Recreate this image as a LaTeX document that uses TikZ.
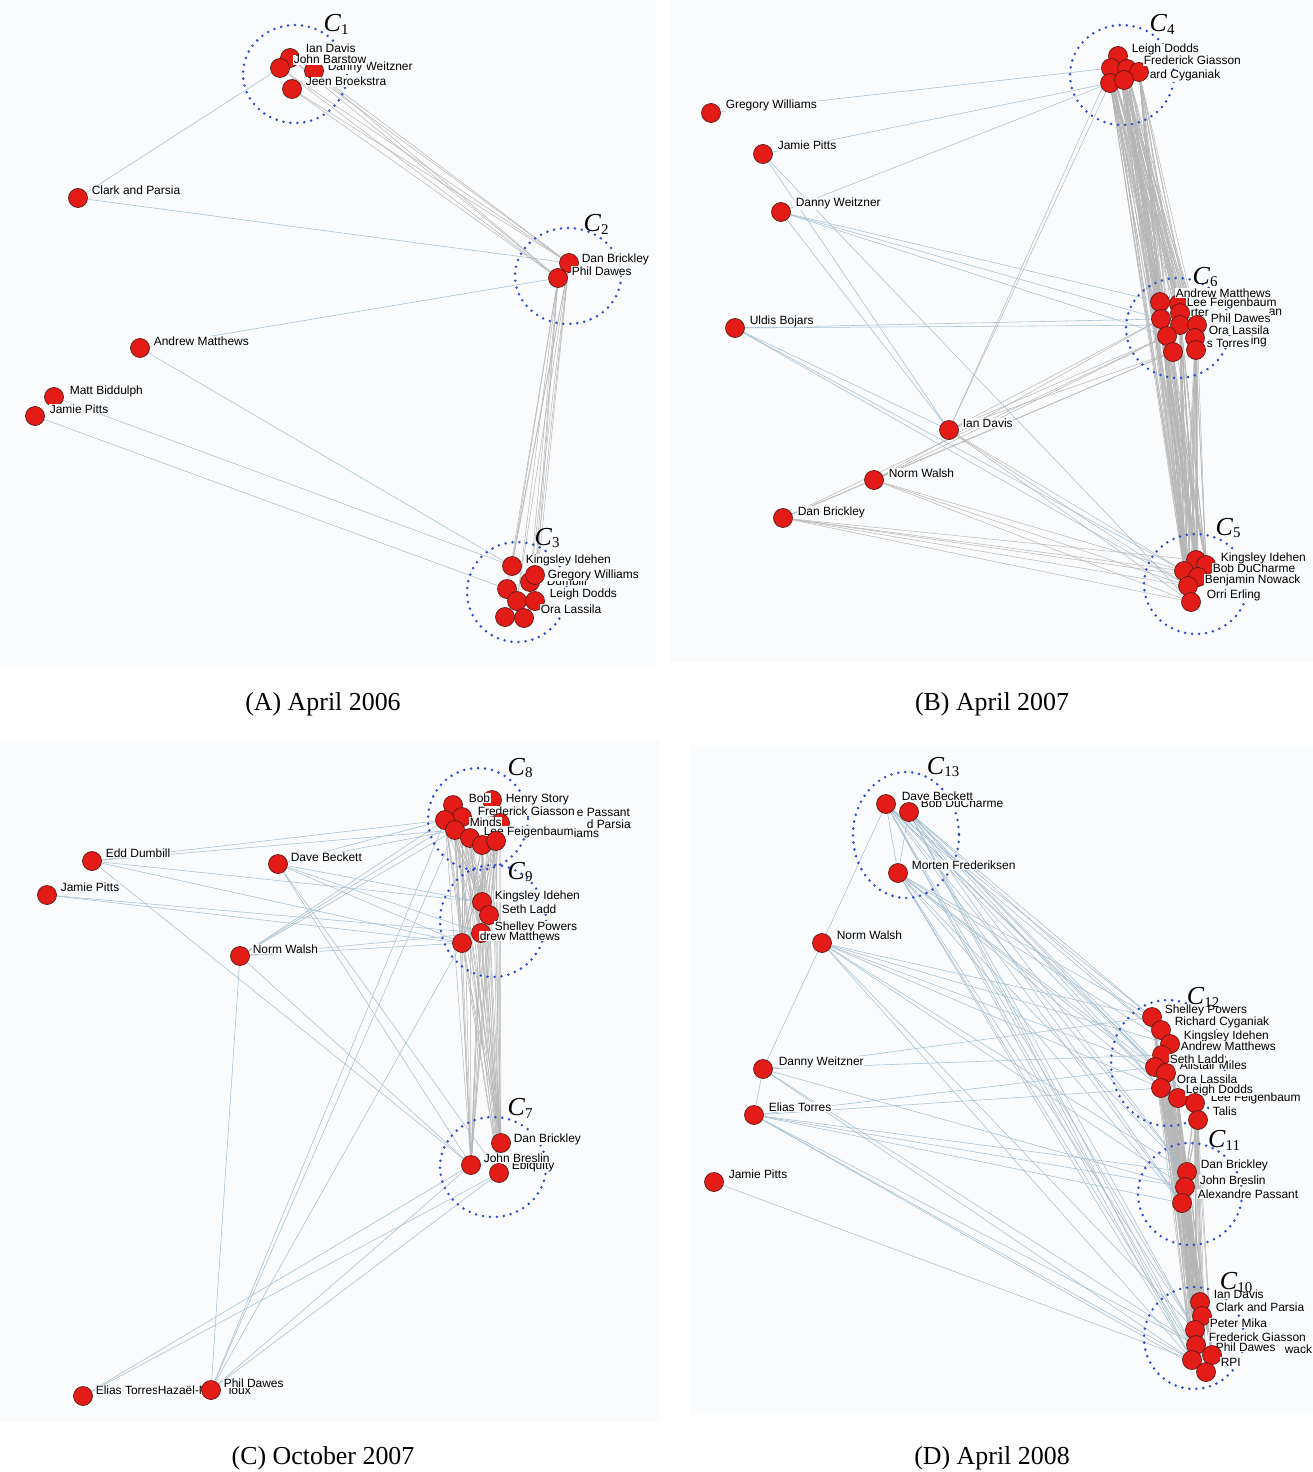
\documentclass[tikz,border=0pt]{standalone}
\usepackage{fontspec}
\usepackage{tikz}
\newfontfamily\labfont{Liberation Sans}
\newfontfamily\capfont{Liberation Serif}
\pgfdeclarelayer{panel}
\pgfdeclarelayer{edges}
\pgfdeclarelayer{rings}
\pgfsetlayers{panel,edges,rings,main}
\definecolor{panelbg}{RGB}{250,251,253}
\definecolor{dotblue}{RGB}{45,75,205}
\definecolor{nodered}{RGB}{228,28,24}
\definecolor{noderim}{RGB}{95,25,20}
\definecolor{tieedge}{RGB}{165,192,208}
\definecolor{bunchedge}{RGB}{182,182,182}
\tikzset{
    pers/.style={circle, fill=nodered, draw=noderim, line width=0.7bp, minimum size=19bp, inner sep=0pt},
    lab/.style={font=\labfont\fontsize{12}{12}\selectfont, anchor=base west, fill=panelbg, inner sep=0.6bp},
    ring/.style={draw=dotblue, line width=2.8bp, line cap=round, dash pattern=on 0bp off 7bp},
    clus/.style={font=\capfont\fontsize{26}{26}\selectfont, inner sep=0pt},
    capt/.style={font=\capfont\fontsize{26}{26}\selectfont, inner sep=0pt},
    tie/.style={draw=tieedge, line width=0.55bp},
    bunch/.style={draw=bunchedge, line width=0.5bp}
}
\newcommand{\person}[3]{\node[pers] (#1) at (#2,#3) {};}
\newcommand{\plabel}[4]{\node[lab] (#1) at (#2,#3) {#4};}
\newcommand{\cname}[1]{\textit{C}\raisebox{-0.25ex}{\fontsize{15}{15}\selectfont #1}}

\begin{document}
\begin{tikzpicture}[x=1bp, y=-1bp]
    \useasboundingbox (0,0) rectangle (1313,1472);
    \begin{pgfonlayer}{panel}
        \fill[white] (0,0) rectangle (1313,1472);
        \fill[panelbg] (0,0) rectangle (656,668);
        \fill[panelbg] (670,0) rectangle (1313,662);
        \fill[panelbg] (0,740) rectangle (660,1422);
        \fill[panelbg] (690,745) rectangle (1313,1415);
    \end{pgfonlayer}

    % (A) April 2006
    \person{aIan}{290}{58}
    \plabel{aIanL}{305}{53}{Ian Davis}
    \person{aDanny}{314}{71}
    \plabel{aDannyL}{327}{71}{Danny Weitzner}
    \person{aBarstow}{280}{68}
    \plabel{aBarstowL}{293}{64}{John Barstow}
    \person{aJeen}{292}{89}
    \plabel{aJeenL}{305}{86}{Jeen Broekstra}
    \person{aClark}{78}{198}
    \plabel{aClarkL}{91}{195}{Clark and Parsia}
    \person{aDan}{569}{263}
    \plabel{aDanL}{581}{262}{Dan Brickley}
    \person{aPhil}{558}{278}
    \plabel{aPhilL}{571}{275}{Phil Dawes}
    \person{aAndrew}{140}{348}
    \plabel{aAndrewL}{153}{345}{Andrew Matthews}
    \person{aMatt}{54}{397}
    \plabel{aMattL}{69}{394}{Matt Biddulph}
    \plabel{aJamieL}{49}{413}{Jamie Pitts}
    \person{aJamie}{35}{416}
    \person{aKing}{512}{566}
    \plabel{aKingL}{525}{563}{Kingsley Idehen}
    \person{aTa}{507}{589}
    \person{aEdd}{530}{582}
    \plabel{aEddL}{546}{585}{Dumbill}
    \person{aGreg}{535}{575}
    \plabel{aGregL}{547}{578}{Gregory Williams}
    \person{aTb}{517}{601}
    \person{aLeigh}{535}{601}
    \plabel{aLeighL}{549}{597}{Leigh Dodds}
    \person{aTc}{505}{617}
    \person{aOra}{524}{618}
    \plabel{aOraL}{540}{613}{Ora Lassila}

    % (B) April 2007
    \person{bGreg}{711}{113}
    \plabel{bGregL}{725}{109}{Gregory Williams}
    \person{bJamie}{763}{154}
    \plabel{bJamieL}{777}{150}{Jamie Pitts}
    \person{bDanny}{781}{212}
    \plabel{bDannyL}{795}{207}{Danny Weitzner}
    \person{bUldis}{735}{328}
    \plabel{bUldisL}{749}{324}{Uldis Bojars}
    \person{bIan}{949}{430}
    \plabel{bIanL}{962}{427}{Ian Davis}
    \person{bNorm}{874}{480}
    \plabel{bNormL}{888}{477}{Norm Walsh}
    \person{bDan}{783}{518}
    \plabel{bDanL}{797}{515}{Dan Brickley}
    \person{bLeigh}{1118}{56}
    \plabel{bLeighL}{1131}{53}{Leigh Dodds}
    \person{bKa}{1111}{68}
    \person{bKb}{1127}{69}
    \person{bFred}{1139}{72}
    \plabel{bFredL}{1143}{65}{Frederick Giasson}
    \person{bKc}{1110}{83}
    \person{bRich}{1124}{80}
    \plabel{bRichL}{1149}{79}{ard Cyganiak}
    \person{bSa}{1160}{302}
    \person{bSb}{1179}{304}
    \plabel{bAndrewL}{1175}{297}{Andrew Matthews}
    \plabel{bLeeL}{1186}{306}{Lee Feigenbaum}
    \person{bSc}{1180}{313}
    \plabel{bRterL}{1190}{316}{rter}
    \plabel{bAnL}{1268}{315}{an}
    \person{bSd}{1161}{319}
    \person{bSe}{1180}{325}
    \person{bSf}{1197}{325}
    \plabel{bPhilL}{1210}{322}{Phil Dawes}
    \person{bSg}{1167}{336}
    \person{bSh}{1195}{338}
    \plabel{bOraL}{1208}{334}{Ora Lassila}
    \person{bSi}{1173}{352}
    \person{bSj}{1196}{350}
    \plabel{bIngL}{1250}{344}{ing}
    \plabel{bTorresL}{1206}{347}{s Torres}
    \person{bFa}{1196}{560}
    \person{bFb}{1206}{565}
    \plabel{bBobL}{1212}{572}{Bob DuCharme}
    \plabel{bKingL}{1220}{561}{Kingsley Idehen}
    \person{bFc}{1184}{571}
    \person{bFd}{1198}{577}
    \plabel{bBenL}{1204}{583}{Benjamin Nowack}
    \person{bFe}{1188}{586}
    \person{bFf}{1191}{602}
    \plabel{bOrriL}{1206}{598}{Orri Erling}

    % (C) October 2007
    \person{cEdd}{92}{861}
    \plabel{cEddL}{105}{857}{Edd Dumbill}
    \person{cJamie}{47}{895}
    \plabel{cJamieL}{60}{891}{Jamie Pitts}
    \person{cDave}{278}{864}
    \plabel{cDaveL}{290}{861}{Dave Beckett}
    \person{cNorm}{240}{956}
    \plabel{cNormL}{252}{953}{Norm Walsh}
    \person{cEa}{492}{800}
    \person{cEb}{453}{805}
    \plabel{cBobL}{468}{802}{Bob}
    \plabel{cHenryL}{505}{802}{Henry Story}
    \person{cEc}{462}{817}
    \plabel{cFredL}{477}{815}{Frederick Giasson}
    \person{cEd}{500}{823}
    \plabel{cPassantL}{576}{816}{e Passant}
    \plabel{cParsiaL}{586}{828}{d Parsia}
    \person{cEe}{445}{820}
    \plabel{cMindsL}{469}{826}{Minds}
    \person{cEf}{455}{830}
    \plabel{cLeeL}{483}{835}{Lee Feigenbaum}
    \plabel{cIamsL}{573}{837}{iams}
    \person{cEg}{470}{838}
    \person{cEh}{482}{845}
    \person{cEi}{496}{841}
    \person{cNa}{482}{902}
    \plabel{cKingL}{494}{899}{Kingsley Idehen}
    \person{cNb}{489}{915}
    \plabel{cSethL}{501}{913}{Seth Ladd}
    \person{cNc}{481}{933}
    \plabel{cShelleyL}{494}{930}{Shelley Powers}
    \person{cNd}{462}{943}
    \plabel{cAndrewL}{479}{940}{drew Matthews}
    \person{cDan}{501}{1143}
    \plabel{cDanL}{513}{1142}{Dan Brickley}
    \plabel{cEbiL}{511}{1169}{Ebiquity}
    \person{cJohn}{471}{1165}
    \plabel{cJohnL}{483}{1162}{John Breslin}
    \person{cEbi}{499}{1173}
    \person{cElias}{83}{1396}
    \plabel{cEliasL}{95}{1394}{Elias Torres}
    \plabel{cHazaelL}{157}{1394}{Hazaël-N}
    \plabel{cIouxL}{228}{1394}{ioux}
    \person{cPhil}{211}{1390}
    \plabel{cPhilL}{223}{1387}{Phil Dawes}

    % (D) April 2008
    \person{dDave}{886}{804}
    \plabel{dBobL}{920}{807}{Bob DuCharme}
    \plabel{dDaveL}{901}{800}{Dave Beckett}
    \person{dBob}{909}{812}
    \person{dMorten}{898}{873}
    \plabel{dMortenL}{911}{869}{Morten Frederiksen}
    \person{dNorm}{822}{943}
    \plabel{dNormL}{836}{939}{Norm Walsh}
    \person{dDanny}{763}{1069}
    \plabel{dDannyL}{778}{1065}{Danny Weitzner}
    \person{dElias}{754}{1115}
    \plabel{dEliasL}{768}{1111}{Elias Torres}
    \person{dJamie}{714}{1182}
    \plabel{dJamieL}{728}{1178}{Jamie Pitts}
    \person{dTa}{1152}{1017}
    \plabel{dShelleyL}{1164}{1013}{Shelley Powers}
    \person{dTb}{1161}{1030}
    \plabel{dRichL}{1174}{1025}{Richard Cyganiak}
    \person{dTc}{1170}{1044}
    \plabel{dKingL}{1183}{1039}{Kingsley Idehen}
    \plabel{dAndrewL}{1180}{1050}{Andrew Matthews}
    \person{dTd}{1162}{1055}
    \person{dTe}{1155}{1067}
    \plabel{dAlistairL}{1179}{1069}{Alistair Miles}
    \plabel{dSethL}{1169}{1063}{Seth Ladd}
    \person{dTf}{1166}{1073}
    \person{dTg}{1161}{1088}
    \plabel{dOraL}{1176}{1083}{Ora Lassila}
    \person{dTh}{1178}{1098}
    \plabel{dLeeL}{1210}{1101}{Lee Feigenbaum}
    \plabel{dLeighL}{1185}{1093}{Leigh Dodds}
    \person{dTi}{1195}{1103}
    \person{dTj}{1198}{1120}
    \plabel{dTalisL}{1212}{1115}{Talis}
    \person{dVa}{1187}{1172}
    \plabel{dDanL}{1200}{1168}{Dan Brickley}
    \person{dVb}{1185}{1187}
    \plabel{dJohnL}{1199}{1184}{John Breslin}
    \person{dVc}{1182}{1203}
    \plabel{dAlexL}{1197}{1198}{Alexandre Passant}
    \person{dUa}{1200}{1302}
    \plabel{dIanL}{1213}{1298}{Ian Davis}
    \person{dUb}{1202}{1316}
    \plabel{dClarkL}{1215}{1311}{Clark and Parsia}
    \person{dUc}{1195}{1330}
    \plabel{dPeterL}{1209}{1327}{Peter Mika}
    \person{dUd}{1196}{1345}
    \plabel{dWackL}{1284}{1353}{wack}
    \plabel{dFredL}{1208}{1341}{Frederick Giasson}
    \plabel{dPhilL}{1215}{1351}{Phil Dawes}
    \person{dUe}{1192}{1360}
    \person{dUf}{1212}{1355}
    \person{dUg}{1206}{1372}
    \plabel{dRpiL}{1220}{1366}{RPI}

    \node[clus] (cOne) at (336,24) {\cname{1}};
    \node[clus] (cTwo) at (596,224) {\cname{2}};
    \node[clus] (cThree) at (547,538) {\cname{3}};
    \node[clus] (cFour) at (1162,24) {\cname{4}};
    \node[clus] (cFive) at (1228,528) {\cname{5}};
    \node[clus] (cSix) at (1205,277) {\cname{6}};
    \node[clus] (cSeven) at (520,1108) {\cname{7}};
    \node[clus] (cEight) at (520,768) {\cname{8}};
    \node[clus] (cNine) at (520,872) {\cname{9}};
    \node[clus] (cTen) at (1236,1282) {\cname{10}};
    \node[clus] (cEleven) at (1224,1140) {\cname{11}};
    \node[clus] (cTwelve) at (1203,997) {\cname{12}};
    \node[clus] (cThirteen) at (943,767) {\cname{13}};

    \node[capt] (capA) at (323,704) {(A) April 2006};
    \node[capt] (capB) at (992,704) {(B) April 2007};
    \node[capt] (capC) at (323,1458) {(C) October 2007};
    \node[capt] (capD) at (992,1458) {(D) April 2008};

    \begin{pgfonlayer}{rings}
        \draw[ring] (295,74) ellipse [x radius=52, y radius=49];
        \draw[ring] (568,276) ellipse [x radius=53, y radius=48];
        \draw[ring] (517,592) ellipse [x radius=50, y radius=50];
        \draw[ring] (1122,75) ellipse [x radius=52, y radius=50];
        \draw[ring] (1178,328) ellipse [x radius=52, y radius=50];
        \draw[ring] (1196,584) ellipse [x radius=52, y radius=50];
        \draw[ring] (478,819) ellipse [x radius=50, y radius=51];
        \draw[ring] (493,921) ellipse [x radius=53, y radius=56];
        \draw[ring] (493,1167) ellipse [x radius=53, y radius=50];
        \draw[ring] (906,835) ellipse [x radius=53, y radius=63];
        \draw[ring] (1168,1063) ellipse [x radius=57, y radius=63];
        \draw[ring] (1190,1194) ellipse [x radius=52, y radius=51];
        \draw[ring] (1194,1338) ellipse [x radius=50, y radius=51];
    \end{pgfonlayer}

    \begin{pgfonlayer}{edges}
        \foreach \s in {aIan,aBarstow,aDanny,aJeen}
            \foreach \t in {aDan,aPhil} \draw[bunch] (\s) -- (\t);
        \foreach \s in {aDan,aPhil}
            \foreach \t in {aKing,aGreg,aEdd,aLeigh,aTa,aTb} \draw[bunch] (\s) -- (\t);
        \draw[tie] (aClark) -- (aBarstow);
        \draw[tie] (aClark) -- (aDan);
        \draw[tie] (aAndrew) -- (aPhil);
        \draw[tie] (aAndrew) -- (aKing);
        \draw[tie] (aMatt) -- (aKing);
        \draw[tie] (aJamie) -- (aTa);

        \foreach \s in {bLeigh,bKa,bKb,bFred,bKc,bRich}
            \foreach \t in {bSa,bSb,bSc,bSd,bSe,bSf,bSg,bSh,bSi,bSj,bFa,bFb,bFc,bFd,bFe,bFf} \draw[bunch] (\s) -- (\t);
        \foreach \s in {bSa,bSb,bSc,bSd,bSe,bSf,bSg,bSh,bSi,bSj}
            \foreach \t in {bFa,bFb,bFc,bFd,bFe,bFf} \draw[bunch] (\s) -- (\t);
        \draw[tie] (bGreg) -- (bKa);
        \draw[tie] (bJamie) -- (bKc);
        \draw[tie] (bJamie) -- (bIan);
        \draw[tie] (bJamie) -- (bFf);
        \draw[tie] (bDanny) -- (bKc);
        \draw[tie] (bDanny) -- (bIan);
        \foreach \t in {bSa,bSd,bSg} \draw[tie] (bDanny) -- (\t);
        \foreach \t in {bSd,bSe,bFc,bFe,bIan} \draw[tie] (bUldis) -- (\t);
        \foreach \t in {bKa,bKc,bSd,bSg,bSi,bFc,bFe,bFf} \draw[bunch] (bIan) -- (\t);
        \foreach \t in {bSd,bSg,bSi,bFc,bFe,bFf,bDan} \draw[bunch] (bNorm) -- (\t);
        \foreach \t in {bFa,bFc,bFd,bFe,bFf,bSg,bSi} \draw[bunch] (bDan) -- (\t);

        \foreach \s in {cEa,cEb,cEc,cEd,cEe,cEf,cEg,cEh,cEi}
            \foreach \t in {cNa,cNb,cNc,cNd,cDan,cJohn,cEbi} \draw[bunch] (\s) -- (\t);
        \foreach \s in {cNa,cNb,cNc,cNd}
            \foreach \t in {cDan,cJohn,cEbi} \draw[bunch] (\s) -- (\t);
        \foreach \t in {cEe,cEf,cNa,cNd,cJohn} \draw[tie] (cEdd) -- (\t);
        \foreach \t in {cNd,cNc} \draw[tie] (cJamie) -- (\t);
        \foreach \t in {cEe,cEf,cNa,cNc,cNd,cJohn,cEbi} \draw[tie] (cDave) -- (\t);
        \foreach \t in {cEe,cEf,cEc,cNc,cNd,cPhil,cJohn} \draw[tie] (cNorm) -- (\t);
        \foreach \t in {cEe,cEf,cNd,cJohn,cEbi} \draw[tie] (cPhil) -- (\t);
        \foreach \t in {cJohn,cEbi} \draw[tie] (cElias) -- (\t);

        \foreach \s in {dTa,dTb,dTc,dTd,dTe,dTf,dTg,dTh,dTi,dTj}
            \foreach \t in {dVa,dVb,dVc,dUa,dUb,dUc,dUd,dUe,dUf,dUg} \draw[bunch] (\s) -- (\t);
        \foreach \s in {dVa,dVb,dVc}
            \foreach \t in {dUa,dUb,dUc,dUd,dUe,dUf,dUg} \draw[bunch] (\s) -- (\t);
        \foreach \s in {dDave,dBob,dMorten}
            \foreach \t in {dTa,dTc,dTe,dTg,dTi,dVa,dVc,dUc,dUe,dUg} \draw[tie] (\s) -- (\t);
        \draw[tie] (dDave) -- (dNorm);
        \draw[tie] (dDave) -- (dMorten);
        \draw[tie] (dBob) -- (dMorten);
        \draw[tie] (dNorm) -- (dDanny);
        \draw[tie] (dDanny) -- (dElias);
        \foreach \t in {dTa,dTc,dTe,dTg,dVa,dVb,dUc,dUe} \draw[tie] (dNorm) -- (\t);
        \foreach \t in {dTa,dTd,dVb,dUd,dUe} \draw[tie] (dDanny) -- (\t);
        \foreach \t in {dTe,dTg,dVa,dVb,dVc,dUd,dUe,dUg} \draw[tie] (dElias) -- (\t);
        \draw[tie] (dJamie) -- (dUe);
    \end{pgfonlayer}
\end{tikzpicture}
\end{document}
